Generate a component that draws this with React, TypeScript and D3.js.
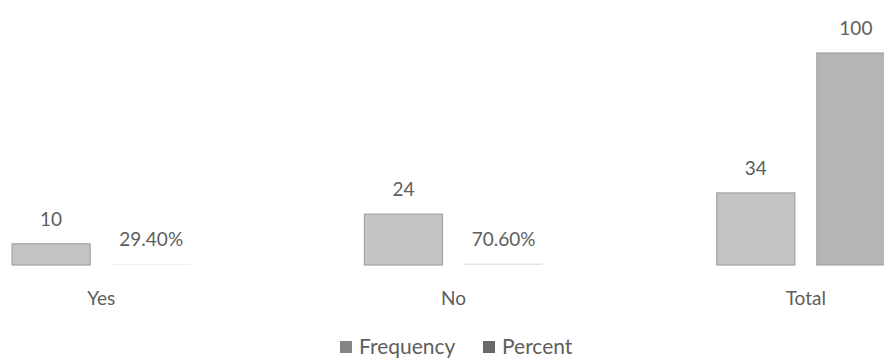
import { useEffect, useRef } from "react";
import * as d3 from "d3";

const categories = ["Yes", "No", "Total"];
const seriesNames = ["Frequency", "Percent"];
const frequencyValues = [10, 24, 34];
const percentValues = [0.294, 0.706, 100];
const frequencyLabels = ["10", "24", "34"];
const percentLabels = ["29.40%", "70.60%", "100"];

const WIDTH = 884;
const HEIGHT = 359;
const FONT = "Lato, 'Open Sans', sans-serif";
const TEXT = "#5e5e5e";
const COLORS: Record<string, string> = { Frequency: "#c4c4c4", Percent: "#b5b5b5" };

export default function App() {
  const svgRef = useRef<SVGSVGElement>(null);

  useEffect(() => {
    if (!svgRef.current) return;
    const svg = d3.select(svgRef.current);
    svg.selectAll("*").remove();

    const x0 = d3.scaleBand().domain(categories).range([-75, 982]).paddingInner(0);
    const x1 = d3
      .scaleBand()
      .domain(seriesNames)
      .range([0, x0.bandwidth()])
      .paddingInner(0.22)
      .paddingOuter(0.87);
    const y = d3.scaleLinear().domain([0, 100]).range([265, 53]);

    const rows = categories.map((c, i) => ({
      category: c,
      bars: [
        { key: "Frequency", value: frequencyValues[i], label: frequencyLabels[i] },
        { key: "Percent", value: percentValues[i], label: percentLabels[i] },
      ],
    }));

    const groups = svg
      .selectAll(".group")
      .data(rows)
      .enter()
      .append("g")
      .attr("class", "group")
      .attr("transform", (d) => `translate(${x0(d.category)},0)`);

    groups
      .selectAll("rect")
      .data((d) => d.bars)
      .enter()
      .append("rect")
      .attr("x", (d) => x1(d.key)!)
      .attr("y", (d) => y(d.value))
      .attr("width", x1.bandwidth())
      .attr("height", (d) => y(0) - y(d.value))
      .attr("fill", (d) => COLORS[d.key])
      .attr("fill-opacity", (d) => (d.value < 1 ? 0.35 : 1))
      .attr("stroke", "#a2a2a2")
      .attr("stroke-width", (d) => (d.value < 1 ? 0 : 1.2));

    // data labels
    groups
      .selectAll("text.val")
      .data((d) => d.bars)
      .enter()
      .append("text")
      .attr("class", "val")
      .attr("x", (d) => x1(d.key)! + x1.bandwidth() / 2)
      .attr("y", (d) => y(d.value) - 18)
      .attr("text-anchor", "middle")
      .attr("font-family", FONT)
      .attr("font-size", 19)
      .attr("fill", TEXT)
      .text((d) => d.label);

    // category axis labels
    svg
      .selectAll("text.cat")
      .data(categories)
      .enter()
      .append("text")
      .attr("class", "cat")
      .attr("x", (d) => x0(d)! + x0.bandwidth() / 2)
      .attr("y", 305)
      .attr("text-anchor", "middle")
      .attr("font-family", FONT)
      .attr("font-size", 19)
      .attr("fill", TEXT)
      .text((d) => d);

    // legend
    const legendX = [340, 483];
    const legend = svg
      .selectAll(".legend")
      .data(seriesNames)
      .enter()
      .append("g")
      .attr("class", "legend")
      .attr("transform", (_d, i) => `translate(${legendX[i]},0)`);
    legend
      .append("rect")
      .attr("x", 0)
      .attr("y", 341)
      .attr("width", 12)
      .attr("height", 12)
      .attr("fill", (d) => (d === "Frequency" ? "#858585" : "#6a6a6a"));
    legend
      .append("text")
      .attr("x", 19)
      .attr("y", 353.5)
      .attr("font-family", FONT)
      .attr("font-size", 21)
      .attr("fill", TEXT)
      .text((d) => d);
  }, []);

  return (
    <svg
      ref={svgRef}
      width={WIDTH}
      height={HEIGHT}
      style={{ position: "fixed", left: 0, top: 0, background: "#fff" }}
    />
  );
}
